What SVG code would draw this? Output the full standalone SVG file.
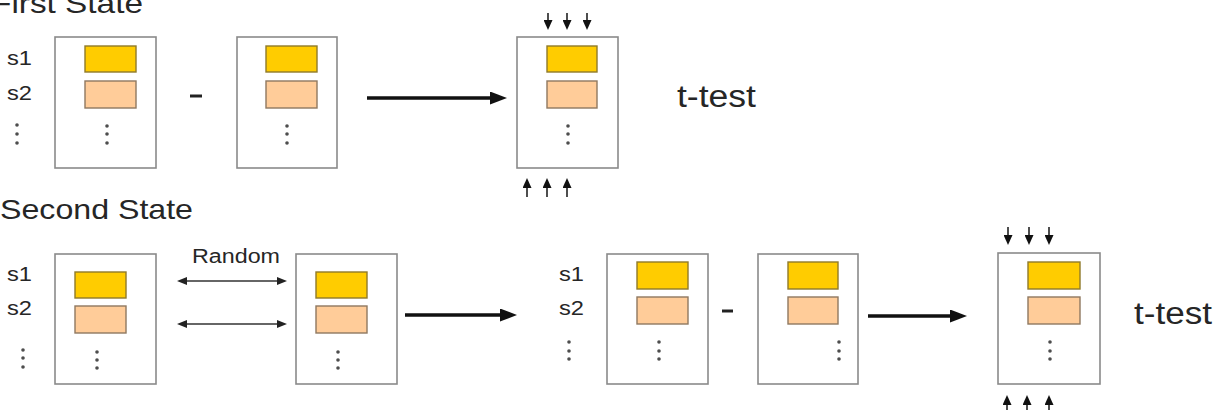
<svg xmlns="http://www.w3.org/2000/svg" width="1219" height="414" viewBox="0 0 1219 414">
<style>
.bg{fill:#ffffff}
.box{fill:#ffffff;stroke:#8a8a8a;stroke-width:1.6}
.y{fill:#ffcc00;stroke:#8f7a2a;stroke-width:1.4}
.p{fill:#ffcc99;stroke:#8f7860;stroke-width:1.4}
.dot{fill:#4d4d4d}
.t{font-family:"Liberation Sans",Arial,Helvetica,sans-serif;fill:#262626}
.title{font-size:28px}
.lbl{font-size:21px}
.tt{font-size:31px}
.rnd{font-size:20px}
.big{stroke:#111111;stroke-width:3.6;fill:none}
.sm{stroke:#222222;stroke-width:1.6;fill:none}
.dbl{stroke:#333333;stroke-width:1.4;fill:none}
.minus{stroke:#222222;stroke-width:3}
</style>
<defs>
<marker id="bigHead" markerUnits="userSpaceOnUse" markerWidth="17" markerHeight="13" refX="7" refY="6.5" orient="auto">
<path d="M0,0 L17,6.5 L0,13 z" fill="#111111"/>
</marker>
<marker id="smHead" markerUnits="userSpaceOnUse" markerWidth="10" markerHeight="9" refX="3" refY="4.5" orient="auto">
<path d="M0,0 L10,4.5 L0,9 z" fill="#111111"/>
</marker>
<marker id="dblHead" markerUnits="userSpaceOnUse" markerWidth="10" markerHeight="8" refX="3" refY="4" orient="auto-start-reverse">
<path d="M0,0 L10,4 L0,8 z" fill="#222222"/>
</marker>
</defs>
<rect class="bg" x="0" y="0" width="1219" height="414"/>

<text class="t title" x="-9" y="13" textLength="152" lengthAdjust="spacingAndGlyphs">First State</text>
<text class="t title" x="0" y="219" textLength="193" lengthAdjust="spacingAndGlyphs">Second State</text>

<g id="labels1">
<text class="t lbl" x="7" y="65" textLength="25" lengthAdjust="spacingAndGlyphs">s1</text>
<text class="t lbl" x="7" y="100" textLength="25" lengthAdjust="spacingAndGlyphs">s2</text>
<circle class="dot" cx="17" cy="125" r="1.8"/><circle class="dot" cx="17" cy="134" r="1.8"/><circle class="dot" cx="17" cy="143" r="1.8"/>
</g>

<g id="box1">
<rect class="box" x="55" y="37" width="101" height="131"/>
<rect class="y" x="85" y="46" width="51" height="26"/>
<rect class="p" x="85" y="81" width="51" height="27"/>
<circle class="dot" cx="107" cy="126" r="1.8"/><circle class="dot" cx="107" cy="134" r="1.8"/><circle class="dot" cx="107" cy="143" r="1.8"/>
</g>

<g id="box2">
<rect class="box" x="237" y="37" width="100" height="131"/>
<rect class="y" x="266" y="46" width="51" height="26"/>
<rect class="p" x="266" y="81" width="51" height="27"/>
<circle class="dot" cx="287" cy="126" r="1.8"/><circle class="dot" cx="287" cy="134" r="1.8"/><circle class="dot" cx="287" cy="143" r="1.8"/>
</g>

<g id="box3">
<rect class="box" x="517" y="37" width="101" height="131"/>
<rect class="y" x="547" y="46" width="50" height="26"/>
<rect class="p" x="547" y="81" width="50" height="27"/>
<circle class="dot" cx="568" cy="126" r="1.8"/><circle class="dot" cx="568" cy="134" r="1.8"/><circle class="dot" cx="568" cy="143" r="1.8"/>
</g>

<g id="ttest1">
<text class="t tt" x="677" y="107" textLength="79" lengthAdjust="spacingAndGlyphs">t-test</text>
</g>

<g id="labels2">
<text class="t lbl" x="7" y="281" textLength="25" lengthAdjust="spacingAndGlyphs">s1</text>
<text class="t lbl" x="7" y="315" textLength="25" lengthAdjust="spacingAndGlyphs">s2</text>
<circle class="dot" cx="23" cy="350" r="1.8"/><circle class="dot" cx="23" cy="358" r="1.8"/><circle class="dot" cx="23" cy="367" r="1.8"/>
</g>

<g id="box4">
<rect class="box" x="55" y="254" width="101" height="130"/>
<rect class="y" x="75" y="272" width="51" height="26"/>
<rect class="p" x="75" y="306" width="51" height="27"/>
<circle class="dot" cx="97" cy="352" r="1.8"/><circle class="dot" cx="97" cy="360" r="1.8"/><circle class="dot" cx="97" cy="368" r="1.8"/>
</g>

<g id="random">
<text class="t rnd" x="192" y="263" textLength="88" lengthAdjust="spacingAndGlyphs">Random</text>
</g>

<g id="box5">
<rect class="box" x="296" y="254" width="101" height="130"/>
<rect class="y" x="316" y="272" width="51" height="26"/>
<rect class="p" x="316" y="306" width="51" height="27"/>
<circle class="dot" cx="338" cy="352" r="1.8"/><circle class="dot" cx="338" cy="360" r="1.8"/><circle class="dot" cx="338" cy="368" r="1.8"/>
</g>

<g id="labels3">
<text class="t lbl" x="559" y="281" textLength="25" lengthAdjust="spacingAndGlyphs">s1</text>
<text class="t lbl" x="559" y="315" textLength="25" lengthAdjust="spacingAndGlyphs">s2</text>
<circle class="dot" cx="569" cy="342" r="1.8"/><circle class="dot" cx="569" cy="351" r="1.8"/><circle class="dot" cx="569" cy="359" r="1.8"/>
</g>

<g id="box6">
<rect class="box" x="607" y="254" width="101" height="130"/>
<rect class="y" x="637" y="262" width="51" height="27"/>
<rect class="p" x="637" y="297" width="51" height="27"/>
<circle class="dot" cx="659" cy="342" r="1.8"/><circle class="dot" cx="659" cy="351" r="1.8"/><circle class="dot" cx="659" cy="359" r="1.8"/>
</g>

<g id="box7">
<rect class="box" x="758" y="254" width="100" height="130"/>
<rect class="y" x="788" y="262" width="50" height="27"/>
<rect class="p" x="788" y="297" width="50" height="27"/>
<circle class="dot" cx="839" cy="342" r="1.8"/><circle class="dot" cx="839" cy="351" r="1.8"/><circle class="dot" cx="839" cy="359" r="1.8"/>
</g>

<g id="box8">
<rect class="box" x="998" y="253" width="102" height="131"/>
<rect class="y" x="1028" y="262" width="52" height="27"/>
<rect class="p" x="1028" y="297" width="52" height="27"/>
<circle class="dot" cx="1050" cy="342" r="1.8"/><circle class="dot" cx="1050" cy="351" r="1.8"/><circle class="dot" cx="1050" cy="359" r="1.8"/>
</g>

<g id="ttest2">
<text class="t tt" x="1134" y="324" textLength="78" lengthAdjust="spacingAndGlyphs">t-test</text>
</g>

<g id="connectors">
<line class="minus" x1="190" y1="96" x2="202" y2="96"/>
<line class="minus" x1="722" y1="311" x2="733" y2="311"/>
<line class="big" x1="367" y1="98" x2="497" y2="98" marker-end="url(#bigHead)"/>
<line class="big" x1="405" y1="315" x2="507" y2="315" marker-end="url(#bigHead)"/>
<line class="big" x1="868" y1="316" x2="957" y2="316" marker-end="url(#bigHead)"/>
<line class="dbl" x1="184" y1="281" x2="280" y2="281" marker-start="url(#dblHead)" marker-end="url(#dblHead)"/>
<line class="dbl" x1="184" y1="324" x2="280" y2="324" marker-start="url(#dblHead)" marker-end="url(#dblHead)"/>
<line class="sm" x1="548" y1="13" x2="548" y2="23" marker-end="url(#smHead)"/>
<line class="sm" x1="567" y1="13" x2="567" y2="23" marker-end="url(#smHead)"/>
<line class="sm" x1="587" y1="13" x2="587" y2="23" marker-end="url(#smHead)"/>
<line class="sm" x1="527" y1="197" x2="527" y2="185" marker-end="url(#smHead)"/>
<line class="sm" x1="547" y1="197" x2="547" y2="185" marker-end="url(#smHead)"/>
<line class="sm" x1="567" y1="197" x2="567" y2="185" marker-end="url(#smHead)"/>
<line class="sm" x1="1008" y1="227" x2="1008" y2="238" marker-end="url(#smHead)"/>
<line class="sm" x1="1029" y1="227" x2="1029" y2="238" marker-end="url(#smHead)"/>
<line class="sm" x1="1049" y1="227" x2="1049" y2="238" marker-end="url(#smHead)"/>
<line class="sm" x1="1007" y1="410" x2="1007" y2="402" marker-end="url(#smHead)"/>
<line class="sm" x1="1027" y1="410" x2="1027" y2="402" marker-end="url(#smHead)"/>
<line class="sm" x1="1049" y1="410" x2="1049" y2="402" marker-end="url(#smHead)"/>
</g>
</svg>
